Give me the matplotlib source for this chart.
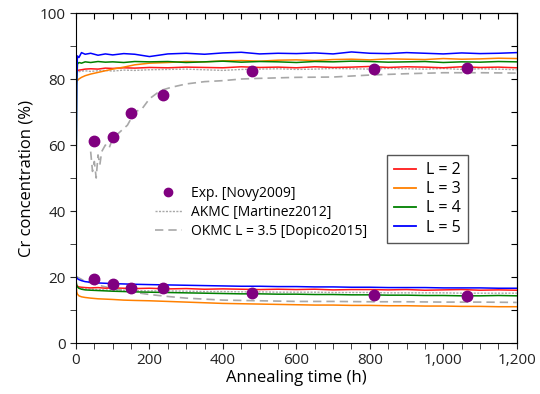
import matplotlib
matplotlib.use('Agg')
import matplotlib.pyplot as plt
from matplotlib.ticker import MultipleLocator, FuncFormatter, NullFormatter
from matplotlib.lines import Line2D

plt.rcParams['font.family'] = ['Open Sans', 'DejaVu Sans']

# ---- data ----
t = [0, 2, 4, 8, 15, 25, 40, 60, 80, 100, 130, 160, 200, 250, 300, 350, 400,
     450, 500, 550, 600, 650, 700, 750, 800, 850, 900, 950, 1000, 1050, 1100, 1150, 1200]

blue_up = [45, 80, 87, 86.5, 88, 87.5, 87.8, 87.2, 87.6, 87.3, 87.7, 87.5, 86.8, 87.6, 87.8, 87.5, 87.9,
           88.1, 87.6, 87.8, 87.7, 87.9, 87.6, 88.2, 87.8, 87.7, 88.0, 87.8, 87.6, 87.9, 87.7, 87.8, 88.0]
green_up = [43, 78, 84.5, 85, 84.8, 85.2, 85, 85.3, 85.1, 85.2, 85.0, 85.3, 85.2, 85.3, 85.0, 85.2, 85.4,
            85.1, 85.3, 85.2, 85.0, 85.3, 85.2, 85.4, 85.3, 85.1, 85.2, 85.3, 85.0, 85.2, 85.1, 85.3, 85.2]
orange_up = [80, 79.8, 79.5, 80, 80.5, 81, 81.5, 82, 82.5, 83, 83.6, 84.3, 84.8, 85.0, 85.3, 85.2, 85.5,
             85.6, 85.4, 85.7, 85.8, 85.6, 85.9, 86.0, 85.8, 86.1, 86.0, 85.9, 86.2, 86.0, 86.1, 86.3, 86.2]
red_up = [82, 82.3, 82.5, 82.7, 82.8, 83, 83.1, 83.0, 83.3, 83.2, 83.4, 83.3, 83.5, 83.4, 83.6, 83.5, 83.4,
          83.7, 83.5, 83.6, 83.4, 83.7, 83.5, 83.6, 83.8, 83.5, 83.7, 83.6, 83.4, 83.7, 83.5, 83.6, 83.4]
akmc_up = [81.5, 81.8, 82, 82.2, 82.4, 82.5, 82.3, 82.5, 82.6, 82.4, 82.7, 82.6, 82.8, 82.9, 83.0, 82.8, 82.6,
           82.9, 83.0, 83.1, 82.9, 83.0, 83.2, 83.1, 83.0, 83.2, 83.1, 83.0, 83.2, 82.9, 83.1, 83.0, 82.8]

blue_low = [20.2, 19.8, 19.5, 19.2, 18.9, 18.6, 18.4, 18.2, 18.1, 18.0, 17.9, 17.8, 17.7, 17.6, 17.5, 17.4, 17.3,
            17.2, 17.2, 17.1, 17.1, 17.0, 17.0, 16.9, 16.9, 16.8, 16.8, 16.8, 16.7, 16.7, 16.7, 16.6, 16.6]
red_low = [18, 17.5, 17.2, 17.0, 16.9, 16.8, 16.7, 16.8, 16.6, 16.7, 16.6, 16.5, 16.6, 16.4, 16.5, 16.3, 16.4,
           16.3, 16.2, 16.3, 16.2, 16.3, 16.1, 16.2, 16.2, 16.1, 16.2, 16.0, 16.1, 16.2, 16.0, 16.1, 16.0]
green_low = [19, 17.5, 17, 16.6, 16.3, 16.1, 16.0, 15.9, 15.8, 15.7, 15.6, 15.5, 15.4, 15.3, 15.2, 15.1, 15.0,
             14.9, 14.9, 14.8, 14.8, 14.7, 14.7, 14.6, 14.6, 14.5, 14.5, 14.4, 14.4, 14.3, 14.3, 14.4, 14.3]
orange_low = [18.2, 15.5, 14.8, 14.3, 14.0, 13.8, 13.6, 13.4, 13.3, 13.2, 13.0, 12.9, 12.8, 12.6, 12.4, 12.2, 12.0,
              11.9, 11.8, 11.7, 11.6, 11.5, 11.5, 11.4, 11.4, 11.3, 11.3, 11.2, 11.2, 11.1, 11.1, 11.0, 11.0]
akmc_low = [17.5, 17, 16.8, 16.6, 16.5, 16.4, 16.3, 16.2, 16.1, 16.0, 16.0, 15.9, 15.8, 15.8, 15.7, 15.6, 15.6,
            15.5, 15.5, 15.4, 15.4, 15.4, 15.3, 15.3, 15.3, 15.2, 15.2, 15.2, 15.2, 15.1, 15.1, 15.1, 15.1]

okmc_t_up = [40, 45, 50, 55, 60, 65, 70, 80, 90, 100, 120, 140, 160, 180, 200, 230, 260, 300, 350, 400,
             450, 500, 600, 700, 800, 900, 1000, 1100, 1200]
okmc_up = [58, 52, 55, 50, 57, 54, 58, 60, 59, 62, 64, 66, 70, 71, 74, 76.5, 77.5, 78.5, 79.2, 79.5,
           80, 80.2, 80.5, 80.6, 81.2, 81.6, 81.9, 81.9, 81.8]
okmc_t_low = [0, 20, 50, 100, 150, 200, 250, 300, 350, 400, 500, 600, 700, 800, 900, 1000, 1100, 1200]
okmc_low = [20.2, 19, 17.8, 16.5, 15.5, 14.7, 14.1, 13.6, 13.3, 13.0, 12.8, 12.6, 12.6, 12.5, 12.5, 12.4, 12.4, 12.3]

exp_t = [50, 100, 150, 237, 479, 811, 1064]
exp_up = [61.2, 62.4, 69.7, 75.2, 82.4, 83.0, 83.3]
exp_low = [19.4, 17.9, 16.7, 16.7, 15.2, 14.5, 14.2]

# ---- plot ----
fig = plt.figure(figsize=(5.4, 3.94), dpi=100)
ax = fig.add_axes([0.1407, 0.1294, 0.8163, 0.8376])

grey = '#a8a8a8'
ax.plot(okmc_t_up, okmc_up, color=grey, lw=1.2, ls=(0, (5, 3)))
ax.plot(okmc_t_low, okmc_low, color=grey, lw=1.2, ls=(0, (5, 3)))
ax.plot(t, akmc_up, color=grey, lw=1.0, ls=(0, (1.5, 1)))
ax.plot(t, akmc_low, color=grey, lw=1.0, ls=(0, (1.5, 1)))

cols = {'red': '#ff1a1a', 'orange': '#ff8000', 'green': '#008000', 'blue': '#0000ff'}
ax.plot(t, red_up, color=cols['red'], lw=1.1)
ax.plot(t, red_low, color=cols['red'], lw=1.1)
ax.plot(t, orange_up, color=cols['orange'], lw=1.1)
ax.plot(t, orange_low, color=cols['orange'], lw=1.1)
ax.plot(t, green_up, color=cols['green'], lw=1.1)
ax.plot(t, green_low, color=cols['green'], lw=1.1)
ax.plot(t, blue_up, color=cols['blue'], lw=1.1)
ax.plot(t, blue_low, color=cols['blue'], lw=1.1)

ax.plot(exp_t, exp_up, 'o', color='#800080', ms=7.5, zorder=5)
ax.plot(exp_t, exp_low, 'o', color='#800080', ms=7.5, zorder=5)

ax.set_xlim(0, 1200)
ax.set_ylim(0, 100)
ax.xaxis.set_major_locator(MultipleLocator(200))
ax.xaxis.set_minor_locator(MultipleLocator(50))
ax.yaxis.set_major_locator(MultipleLocator(20))
ax.yaxis.set_minor_locator(MultipleLocator(10))
ax.xaxis.set_major_formatter(FuncFormatter(lambda v, p: f'{int(v):,}'))
ax.tick_params(which='both', direction='out', length=4, labelsize=11, colors='#222222')
ax.set_xlabel('Annealing time (h)', fontsize=12, labelpad=1)
ax.set_ylabel('Cr concentration (%)', fontsize=12, labelpad=4)

# mirror ticks on top/right, pointing inward
secx = ax.secondary_xaxis('top')
secx.xaxis.set_major_locator(MultipleLocator(50))
secx.xaxis.set_major_formatter(NullFormatter())
secx.tick_params(direction='in', length=4)
secy = ax.secondary_yaxis('right')
secy.yaxis.set_major_locator(MultipleLocator(10))
secy.yaxis.set_major_formatter(NullFormatter())
secy.tick_params(direction='in', length=4)

h1 = [Line2D([], [], marker='o', ls='none', color='#800080', ms=6),
      Line2D([], [], color=grey, lw=1.0, ls=(0, (1.5, 1))),
      Line2D([], [], color=grey, lw=1.2, ls=(0, (5, 3)))]
leg1 = ax.legend(h1, ['Exp. [Novy2009]', 'AKMC [Martinez2012]', 'OKMC L = 3.5 [Dopico2015]'],
                 loc='upper left', bbox_to_anchor=(0.15, 0.515), frameon=False, fontsize=10,
                 handlelength=2.0, labelspacing=0.3, handletextpad=0.6)
ax.add_artist(leg1)

h2 = [Line2D([], [], color=cols[c], lw=1.3) for c in ('red', 'orange', 'green', 'blue')]
leg2 = ax.legend(h2, ['L = 2', 'L = 3', 'L = 4', 'L = 5'], loc='upper left',
                 bbox_to_anchor=(0.705, 0.570), borderaxespad=0, fontsize=11.5, fancybox=False,
                 edgecolor='#555555', framealpha=1, handlelength=1.4, labelspacing=0.2,
                 handletextpad=0.6, borderpad=0.45)
leg2.get_frame().set_linewidth(1.0)

fig.savefig('out.png', dpi=100)
